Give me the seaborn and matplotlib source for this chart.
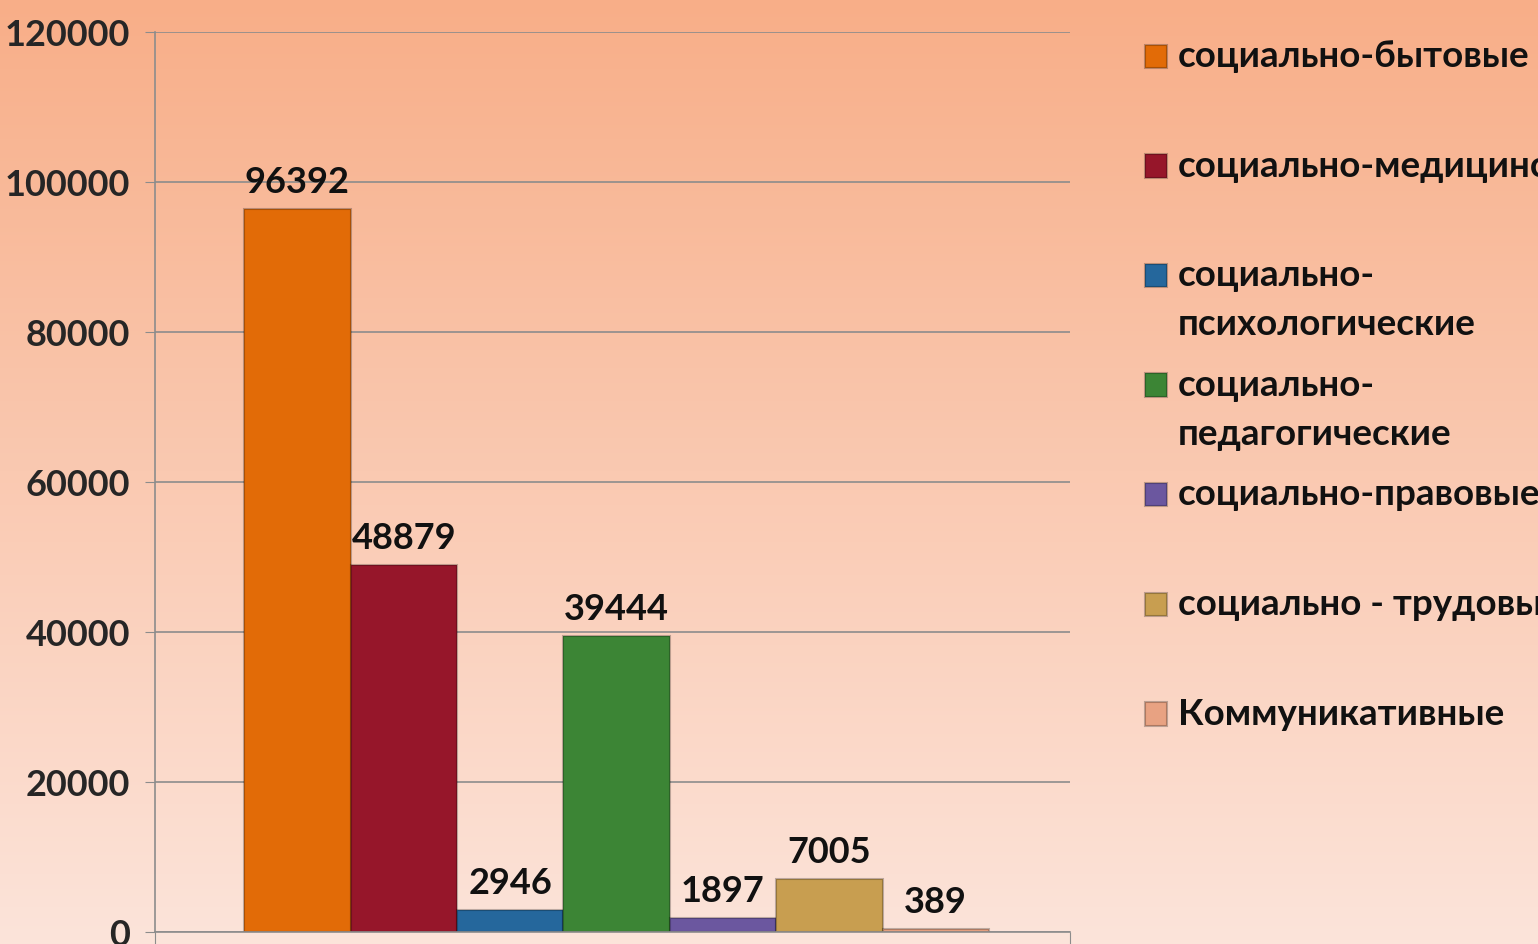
import numpy as np
import pandas as pd
import matplotlib
matplotlib.use('Agg')
import matplotlib.pyplot as plt
from matplotlib.container import BarContainer
from matplotlib.legend_handler import HandlerPatch, update_from_first_child
from matplotlib.patches import Rectangle
import seaborn as sns

# data
categories = ['социально-бытовые', 'социально-медицинские', 'социально-\nпсихологические',
              'социально-\nпедагогические', 'социально-правовые', 'социально - трудовые',
              'Коммуникативные']
values = [96392, 48879, 2946, 39444, 1897, 7005, 389]
bar_colors = ['#E26B07', '#96162A', '#25679C', '#3C8535', '#6B579F', '#C89E50', '#E8A282']
yticks = [0, 20000, 40000, 60000, 80000, 100000, 120000]

df = pd.DataFrame({'group': ['all'] * len(values), 'category': categories, 'value': values})

sns.set_style('white')
plt.rcParams['font.family'] = ['Lato', 'DejaVu Sans']
fs = 26

fig = plt.figure(figsize=(15.38, 9.45), dpi=100)

# peach gradient background
bg = fig.add_axes([0, 0, 1, 1], zorder=-10)
top = np.array([248, 174, 136]) / 255
bottom = np.array([252, 228, 218]) / 255
t = np.linspace(0, 1, 256)[:, None]
grad = top * (1 - t) + bottom * t
bg.imshow(grad[:, None, :], aspect='auto', extent=[0, 1, 0, 1])
bg.axis('off')

ax = fig.add_axes([155 / 1538, 12 / 945, 915 / 1538, 900 / 945])
ax.patch.set_alpha(0)
sns.barplot(data=df, x='group', y='value', hue='category', hue_order=categories,
            palette=bar_colors, width=0.814, saturation=1, legend=False, ax=ax,
            edgecolor='#00000040', linewidth=1.5)

for c in ax.containers:
    ax.bar_label(c, fmt='%d', padding=8, fontsize=fs, fontweight='bold', color='#111111')

xl = (-0.5044, 0.4956)
ax.set_xlim(*xl)
ax.set_ylim(0, 120000)
ax.set_yticks(yticks)
ax.set_yticklabels([str(v) for v in yticks], fontsize=fs, fontweight='bold')
ax.set_xticks(list(xl))
ax.set_xticklabels([])
ax.set_xlabel('')
ax.set_ylabel('')
ax.yaxis.grid(True, color='#8c8c8c', lw=1.2)
ax.set_axisbelow(True)
ax.tick_params(axis='y', length=7, color='#8c8c8c', pad=11, left=True)
ax.tick_params(axis='x', length=10, color='#8c8c8c', bottom=True, direction='out')
for s in ['top', 'right']:
    ax.spines[s].set_visible(False)
for s in ['left', 'bottom']:
    ax.spines[s].set_color('#8c8c8c')
    ax.spines[s].set_linewidth(1.2)


# legend marker sits on the first text line
def top_square(legend, orig_handle, xdescent, ydescent, width, height, fontsize):
    return Rectangle((-xdescent, -ydescent + 17.5), width, height)


handles = ax.containers
labels = [c if '\n' in c else c + '\n ' for c in categories]
leg = fig.legend(handles, labels, loc='upper left', bbox_to_anchor=(1145 / 1538, 1 - 40 / 945),
                 frameon=False, prop={'weight': 'bold', 'size': 26.5},
                 handlelength=0.6, handleheight=0.6, handletextpad=0.3,
                 labelspacing=0.745, borderpad=0, borderaxespad=0,
                 handler_map={BarContainer: HandlerPatch(patch_func=top_square,
                                                         update_func=update_from_first_child)})
for txt in leg.get_texts():
    txt.set_linespacing(1.6)
    txt.set_color('#111111')

fig.savefig('out.png', dpi=100)
